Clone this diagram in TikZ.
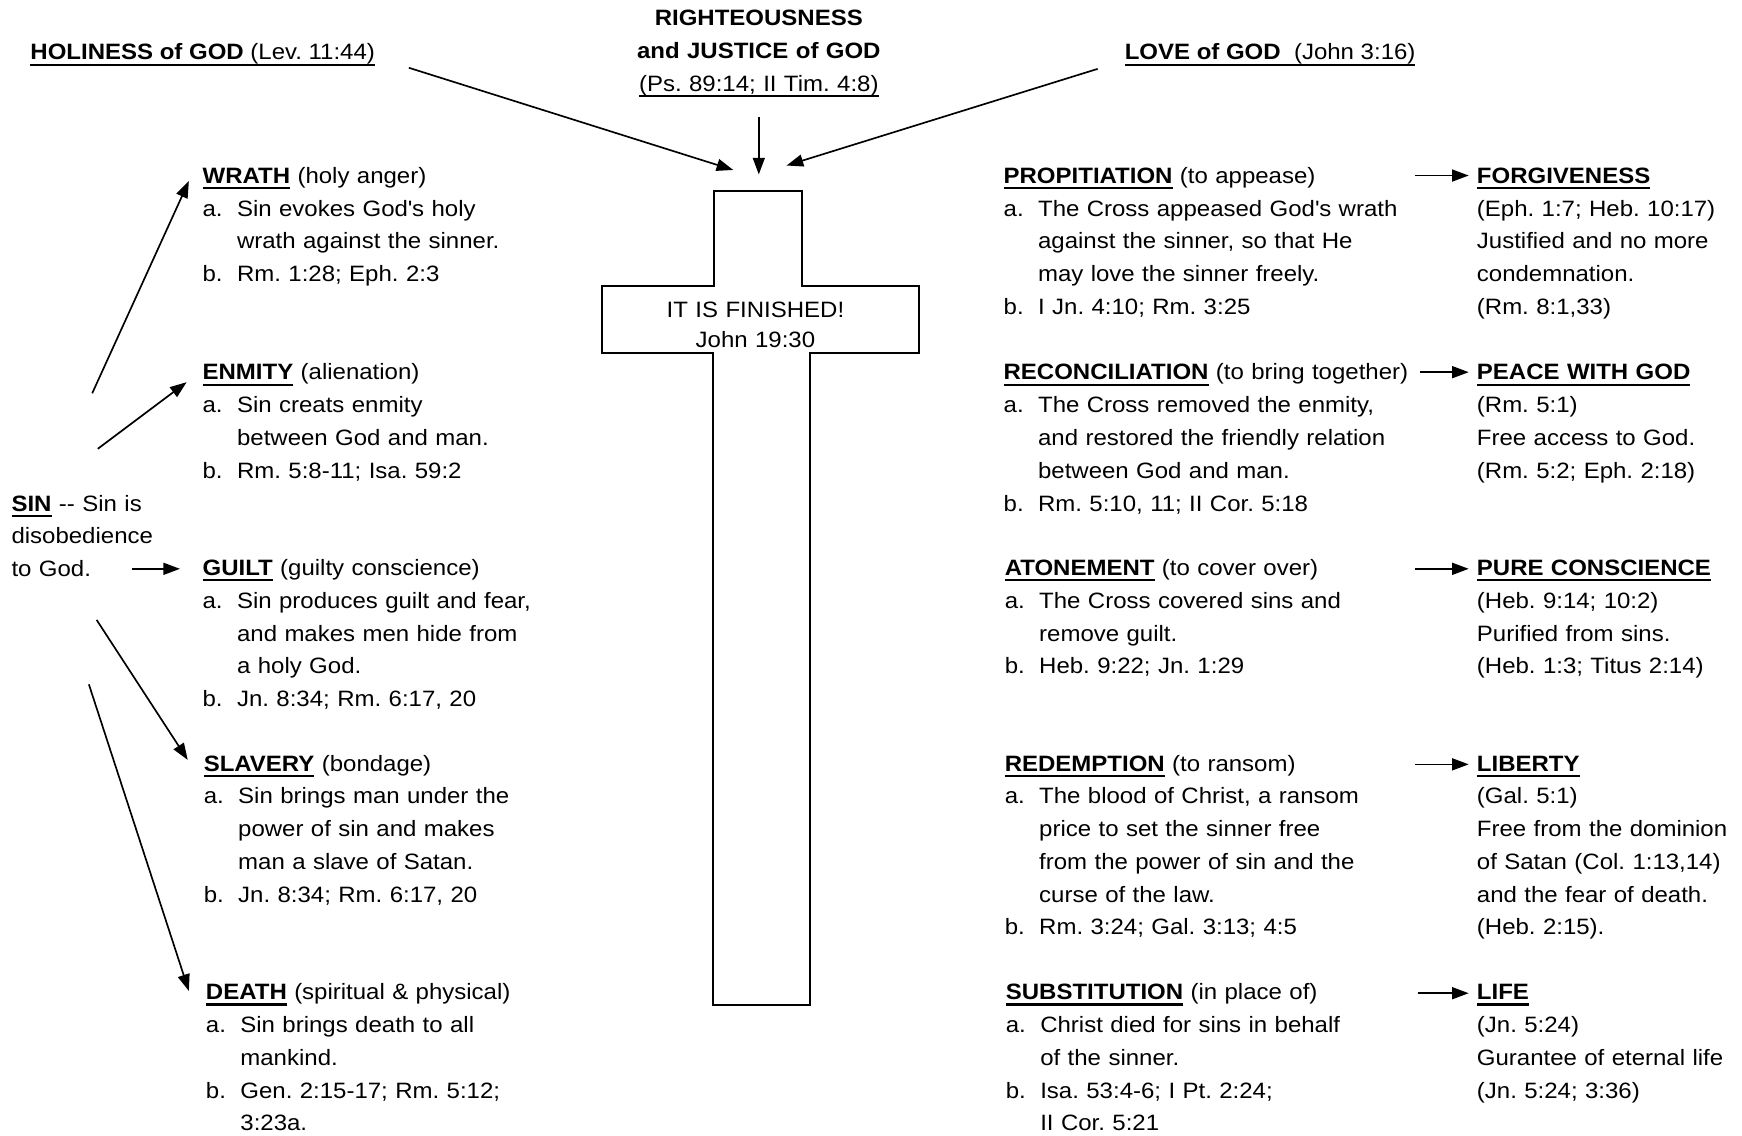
\documentclass[tikz,border=0pt]{standalone}
\usepackage{fontspec}
\setmainfont{Liberation Sans}[FakeStretch=1.08]
\usetikzlibrary{arrows.meta}
\frenchspacing
\newcommand\myul[1]{\leavevmode\setbox0\hbox{#1}\rlap{\rule[-2.6pt]{\wd0}{1pt}}\box0\relax}
\newcommand\ia[1]{\makebox[15.5pt][l]{#1}}
\newcommand\ib{\hspace*{15.5pt}}
\newcommand\ap{\textquotesingle}
\tikzset{
  txt/.style={inner sep=0pt, anchor=base west, align=left, font=\fontsize{10pt}{14.75pt}\selectfont},
  blk/.style={txt, text width=#1},
  arr/.style={line width=0.75pt, -{Triangle[length=7.5pt,width=5.4pt]}},
  crossline/.style={line width=0.9pt, line join=miter}
}
\begin{document}
\begin{tikzpicture}[x=0.5pt,y=-0.5pt]
\useasboundingbox (0,0) rectangle (1568,1022);

% ---- top titles
\node[txt] (holy) at (27,54) {\myul{\textbf{HOLINESS of GOD} (Lev. 11:44)}};
\node[txt, anchor=base, align=center, text width=150pt] (right) at (683,23)
  {\textbf{RIGHTEOUSNESS}\\\textbf{and JUSTICE of GOD}\\\myul{(Ps. 89:14; II Tim. 4:8)}};
\node[txt] (love) at (1012,54) {\myul{\textbf{LOVE of GOD}\ \ (John 3:16)}};

% ---- cross
\draw[crossline] (643,172) -- (722,172) -- (722,257) -- (827,257) -- (827,318) -- (729,318)
  -- (729,905) -- (642,905) -- (642,318) -- (542,318) -- (542,257) -- (643,257) -- cycle;
\node[txt, anchor=base, align=center, text width=120pt, font=\fontsize{10pt}{13.5pt}\selectfont] (fin) at (680,286)
  {IT IS FINISHED!\\John 19:30};

\coordinate (h1) at (368,61);   \coordinate (h2) at (660,153);
\coordinate (r1) at (683,105);  \coordinate (r2) at (683,157);
\coordinate (l1) at (988,62);   \coordinate (l2) at (708,149);
\draw[arr] (h1) -- (h2);
\draw[arr] (r1) -- (r2);
\draw[arr] (l1) -- (l2);

% ---- SIN
\node[blk=90pt] (sin) at (10,460) {\myul{\textbf{SIN}} -{}- Sin is\\disobedience\\to God.};

% ---- left column
\node[blk=200pt] (wrath) at (182,165) {\myul{\textbf{WRATH}} (holy anger)\\
  \ia{a.}Sin evokes God\ap s holy\\
  \ib wrath against the sinner.\\
  \ia{b.}Rm. 1:28; Eph. 2:3};
\node[blk=200pt] (enmity) at (182,342) {\myul{\textbf{ENMITY}} (alienation)\\
  \ia{a.}Sin creats enmity\\
  \ib between God and man.\\
  \ia{b.}Rm. 5:8-11; Isa. 59:2};
\node[blk=200pt] (guilt) at (182,518) {\myul{\textbf{GUILT}} (guilty conscience)\\
  \ia{a.}Sin produces guilt and fear,\\
  \ib and makes men hide from\\
  \ib a holy God.\\
  \ia{b.}Jn. 8:34; Rm. 6:17, 20};
\node[blk=200pt] (slavery) at (183,694) {\myul{\textbf{SLAVERY}} (bondage)\\
  \ia{a.}Sin brings man under the\\
  \ib power of sin and makes\\
  \ib man a slave of Satan.\\
  \ia{b.}Jn. 8:34; Rm. 6:17, 20};
\node[blk=200pt] (death) at (185,900) {\myul{\textbf{DEATH}} (spiritual \& physical)\\
  \ia{a.}Sin brings death to all\\
  \ib mankind.\\
  \ia{b.}Gen. 2:15-17; Rm. 5:12;\\
  \ib 3:23a.};

\coordinate (s1) at (83,354);   \coordinate (e1) at (170,163);
\coordinate (s2) at (88,404);   \coordinate (e2) at (168,344);
\coordinate (s3) at (119,512);  \coordinate (e3) at (162,512);
\coordinate (s4) at (87,558);   \coordinate (e4) at (169,684);
\coordinate (s5) at (80,616);   \coordinate (e5) at (170,892);
\draw[arr] (s1) -- (e1);
\draw[arr] (s2) -- (e2);
\draw[arr] (s3) -- (e3);
\draw[arr] (s4) -- (e4);
\draw[arr] (s5) -- (e5);

% ---- middle-right column
\node[blk=210pt] (prop) at (903,165) {\myul{\textbf{PROPITIATION}} (to appease)\\
  \ia{a.}The Cross appeased God\ap s wrath\\
  \ib against the sinner, so that He\\
  \ib may love the sinner freely.\\
  \ia{b.}I Jn. 4:10; Rm. 3:25};
\node[blk=210pt] (reco) at (903,342) {\myul{\textbf{RECONCILIATION}} (to bring together)\\
  \ia{a.}The Cross removed the enmity,\\
  \ib and restored the friendly relation\\
  \ib between God and man.\\
  \ia{b.}Rm. 5:10, 11; II Cor. 5:18};
\node[blk=210pt] (aton) at (904,518) {\myul{\textbf{ATONEMENT}} (to cover over)\\
  \ia{a.}The Cross covered sins and\\
  \ib remove guilt.\\
  \ia{b.}Heb. 9:22; Jn. 1:29};
\node[blk=210pt] (rede) at (904,694) {\myul{\textbf{REDEMPTION}} (to ransom)\\
  \ia{a.}The blood of Christ, a ransom\\
  \ib price to set the sinner free\\
  \ib from the power of sin and the\\
  \ib curse of the law.\\
  \ia{b.}Rm. 3:24; Gal. 3:13; 4:5};
\node[blk=210pt] (subs) at (905,900) {\myul{\textbf{SUBSTITUTION}} (in place of)\\
  \ia{a.}Christ died for sins in behalf\\
  \ib of the sinner.\\
  \ia{b.}Isa. 53:4-6; I Pt. 2:24;\\
  \ib II Cor. 5:21};

% ---- right column
\node[blk=160pt] (forg) at (1329,165) {\myul{\textbf{FORGIVENESS}}\\
  (Eph. 1:7; Heb. 10:17)\\Justified and no more\\condemnation.\\(Rm. 8:1,33)};
\node[blk=160pt] (peace) at (1329,342) {\myul{\textbf{PEACE WITH GOD}}\\
  (Rm. 5:1)\\Free access to God.\\(Rm. 5:2; Eph. 2:18)};
\node[blk=160pt] (pure) at (1329,518) {\myul{\textbf{PURE CONSCIENCE}}\\
  (Heb. 9:14; 10:2)\\Purified from sins.\\(Heb. 1:3; Titus 2:14)};
\node[blk=160pt] (lib) at (1329,694) {\myul{\textbf{LIBERTY}}\\
  (Gal. 5:1)\\Free from the dominion\\of Satan (Col. 1:13,14)\\and the fear of death.\\(Heb. 2:15).};
\node[blk=160pt] (life) at (1329,900) {\myul{\textbf{LIFE}}\\
  (Jn. 5:24)\\Gurantee of eternal life\\(Jn. 5:24; 3:36)};

\coordinate (p1) at (1274,158); \coordinate (q1) at (1322,158);
\coordinate (p2) at (1278,335); \coordinate (q2) at (1322,335);
\coordinate (p3) at (1274,512); \coordinate (q3) at (1322,512);
\coordinate (p4) at (1274,688); \coordinate (q4) at (1322,688);
\coordinate (p5) at (1276,894); \coordinate (q5) at (1322,894);
\draw[arr] (p1) -- (q1);
\draw[arr] (p2) -- (q2);
\draw[arr] (p3) -- (q3);
\draw[arr] (p4) -- (q4);
\draw[arr] (p5) -- (q5);
\end{tikzpicture}
\end{document}
